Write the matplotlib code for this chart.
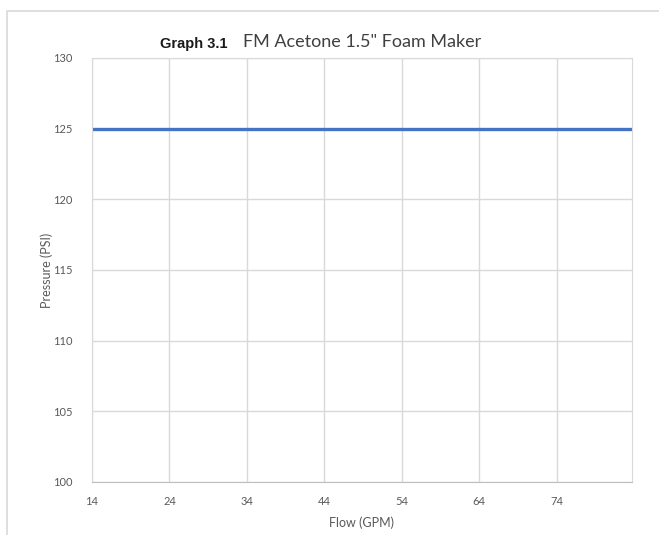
import matplotlib
matplotlib.use('Agg')
import matplotlib.pyplot as plt
from matplotlib.patches import Rectangle

# flow (GPM) vs pressure (PSI) - constant line
flow = [14, 24, 34, 44, 54, 64, 74, 84]
pressure = [125, 125, 125, 125, 125, 125, 125, 125]
x_ticks = [14, 24, 34, 44, 54, 64, 74]
y_ticks = [100, 105, 110, 115, 120, 125, 130]

plt.rcParams['font.family'] = ['Lato', 'DejaVu Sans']

fig = plt.figure(figsize=(6.59, 5.35), dpi=100)
ax = fig.add_axes([0.1396, 0.0991, 0.8194, 0.7925])

# light frame round the chart area
fig.patches.append(Rectangle((7 / 659, -0.05), 1.0, 1 - 11 / 535 + 0.05,
                             transform=fig.transFigure, fill=False,
                             edgecolor='#d9d9d9', linewidth=1.2))

ax.plot(flow, pressure, color='#4472c4', linewidth=2.4, solid_capstyle='butt')

ax.set_xlim(14, 83.7)
ax.set_ylim(100, 130)
ax.set_xticks(x_ticks)
ax.set_yticks(y_ticks)
ax.grid(True, color='#d9d9d9', linewidth=1.0)
ax.set_axisbelow(True)
for s in ax.spines.values():
    s.set_color('#d9d9d9')
ax.spines['bottom'].set_color('#bfbfbf')
ax.tick_params(length=0, labelsize=8, colors='#595959')
ax.tick_params(axis='x', pad=10)
ax.tick_params(axis='y', pad=14)

ax.set_xlabel('Flow (GPM)', fontsize=9, color='#595959', labelpad=7)
ax.set_ylabel('Pressure (PSI)', fontsize=9, color='#595959')
ax.yaxis.set_label_coords(-0.073, 0.5)

fig.text(0.243, 0.918, 'Graph 3.1', fontsize=10.5, fontweight='bold',
         family=['Liberation Sans', 'DejaVu Sans'], color='#1a1a1a', va='center')
fig.text(0.369, 0.921, 'FM Acetone 1.5" Foam Maker', fontsize=13,
         color='#404040', va='center')

fig.savefig('out.png', dpi=100, facecolor='white')
